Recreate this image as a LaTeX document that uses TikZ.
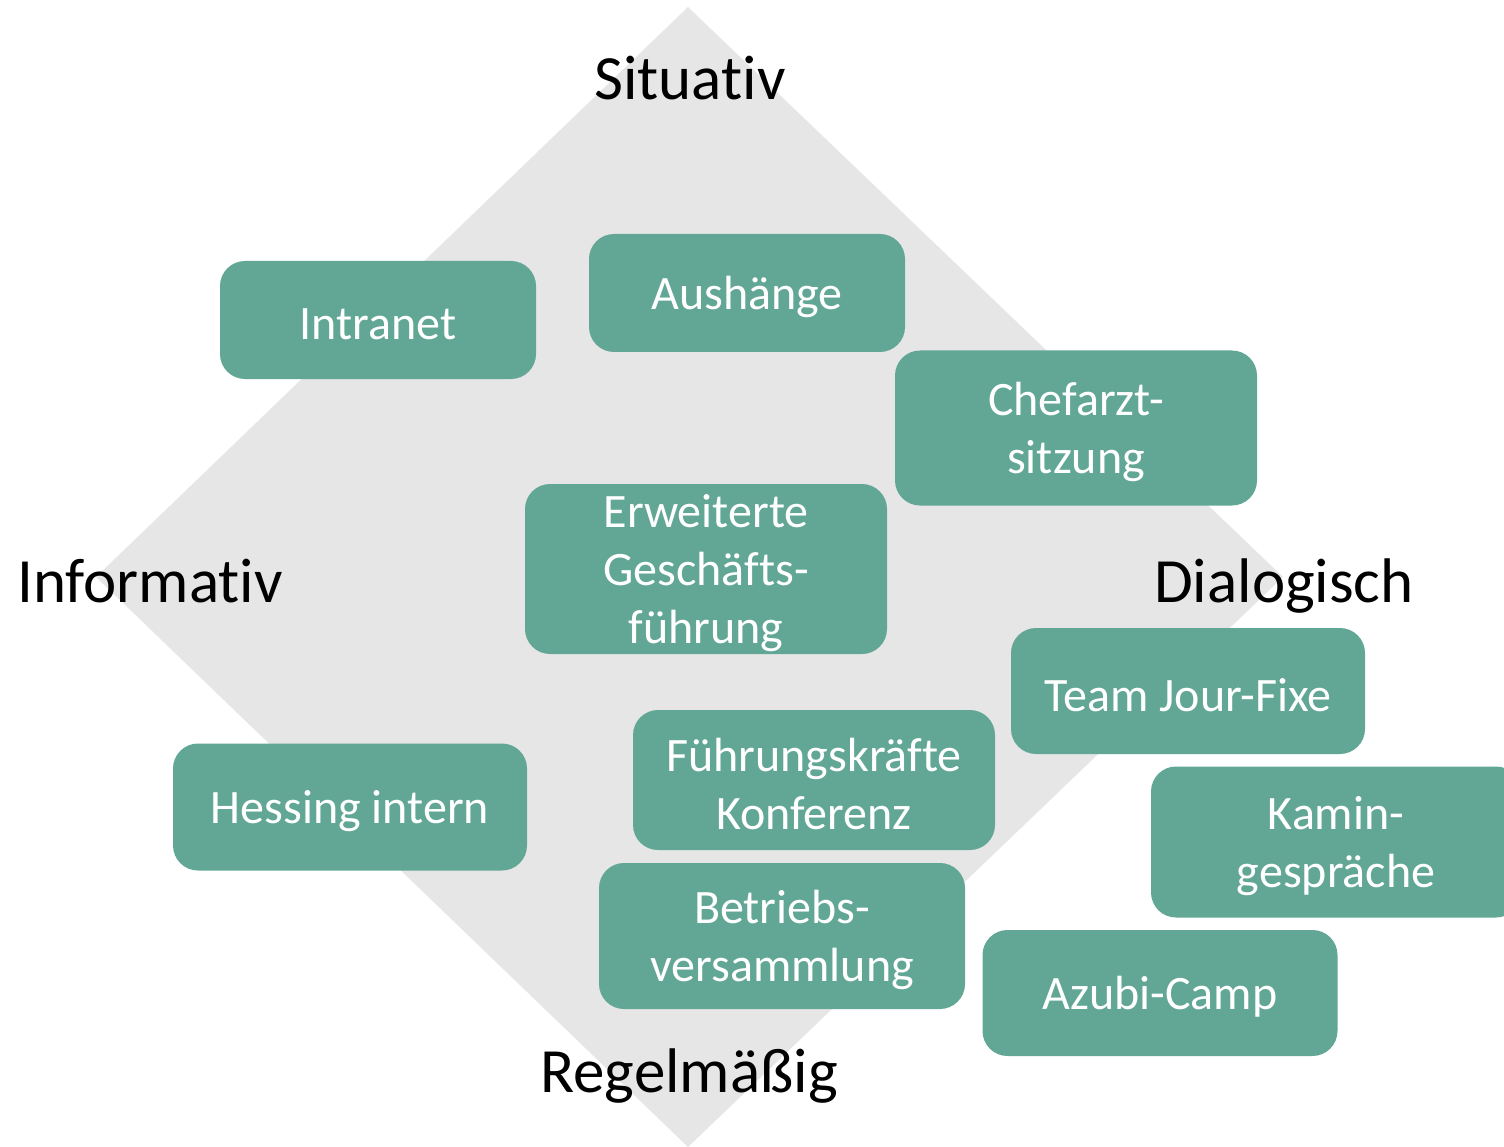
\documentclass[tikz,border=0pt]{standalone}
\usepackage{fontspec}
\setmainfont{Carlito}[Ligatures=NoCommon]
\definecolor{boxgreen}{HTML}{62A795}
\definecolor{diamondgrey}{HTML}{E7E6E6}
\begin{document}
\begin{tikzpicture}[x=1pt,y=-1pt,
  item/.style={fill=boxgreen, rounded corners=25pt, inner sep=0pt},
  itemtext/.style={text=white, align=center, inner sep=0pt, yshift=-4pt,
    font=\fontsize{48}{58}\selectfont},
  axislabel/.style={text=black, inner sep=0pt, anchor=base, font=\fontsize{63}{70}\selectfont}]
\useasboundingbox (0,0) rectangle (1504,1147);
\clip (0,0) rectangle (1504,1147);
\fill[diamondgrey] (688,7) -- (1283,577) -- (688,1147) -- (96,577) -- cycle;
\node[item, minimum width=316pt, minimum height=118pt, label={[itemtext]center:Intranet}] (intranet) at (378,320) {};
\node[item, minimum width=316pt, minimum height=118pt, label={[itemtext]center:Aushänge}] (aush) at (747,293) {};
\node[item, minimum width=362pt, minimum height=155pt, label={[itemtext]center:{Chefarzt-\\sitzung}}] (chef) at (1076,428) {};
\node[item, minimum width=362pt, minimum height=170pt, label={[itemtext]center:{Erweiterte\\Geschäfts-\\führung}}] (erw) at (706,569) {};
\node[item, minimum width=354pt, minimum height=126pt, label={[itemtext]center:Team Jour-Fixe}] (team) at (1188,691) {};
\node[item, minimum width=362pt, minimum height=140pt, label={[itemtext]center:{Führungskräfte\\Konferenz}}] (fk) at (814,780) {};
\node[item, minimum width=354pt, minimum height=127pt, label={[itemtext]center:Hessing intern}] (hess) at (350,807) {};
\node[item, minimum width=370pt, minimum height=151pt, label={[itemtext]center:{Kamin-\\gespräche}}] (kamin) at (1336,842) {};
\node[item, minimum width=366pt, minimum height=146pt, label={[itemtext]center:{Betriebs-\\versammlung}}] (betr) at (782,936) {};
\node[item, minimum width=355pt, minimum height=126pt, label={[itemtext]center:Azubi-Camp}] (azubi) at (1160,993) {};
\node[axislabel] (sit) at (690,100) {Situativ};
\node[axislabel] (inf) at (150,602) {Informativ};
\node[axislabel] (dia) at (1284,602) {Dialogisch};
\node[axislabel] (reg) at (689,1092) {Regelmäßig};
\end{tikzpicture}
\end{document}
